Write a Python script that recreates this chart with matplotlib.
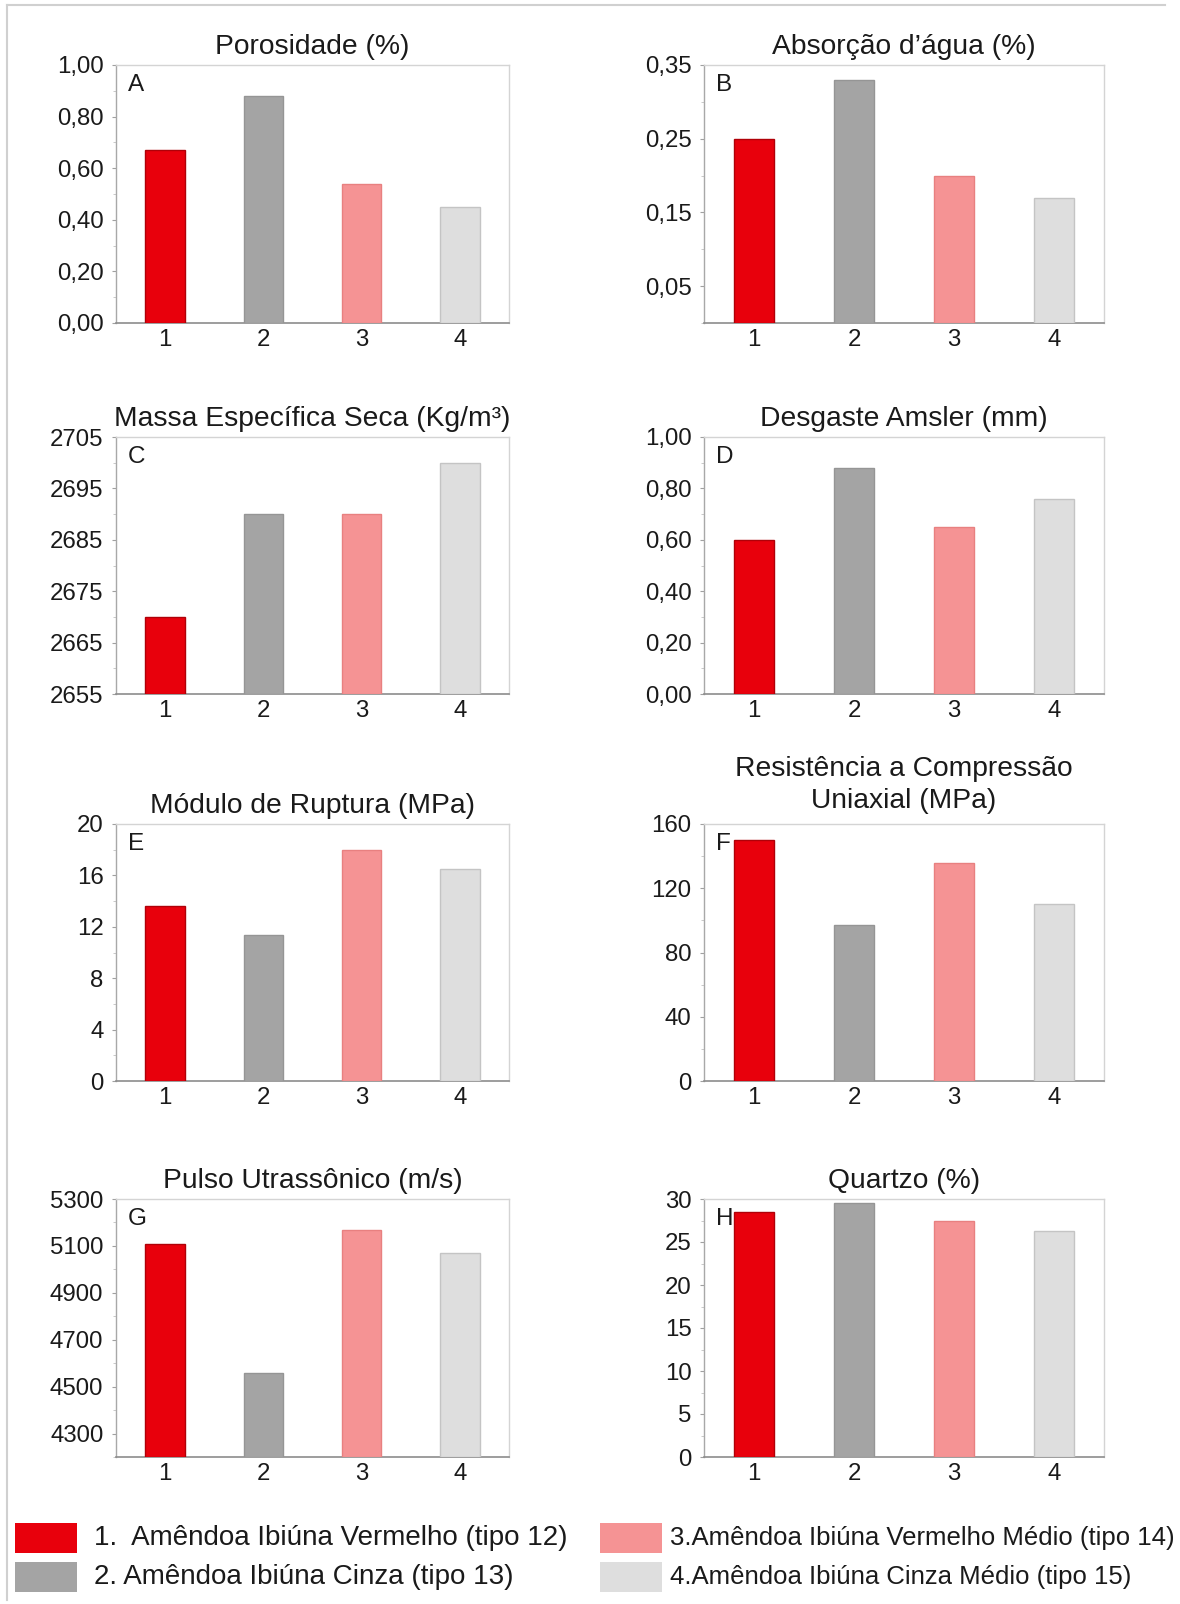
import matplotlib
matplotlib.use("Agg")
import matplotlib.pyplot as plt
from matplotlib.patches import Rectangle
from matplotlib.lines import Line2D
from matplotlib.ticker import FixedLocator, AutoMinorLocator

plt.rcParams['font.family'] = ['Liberation Sans', 'DejaVu Sans']

# ---------------- data ----------------
categories = ["1", "2", "3", "4"]

titles = ["Porosidade (%)", "Absorção d’água (%)",
          "Massa Específica Seca (Kg/m³)", "Desgaste Amsler (mm)",
          "Módulo de Ruptura (MPa)", "Resistência a Compressão\nUniaxial (MPa)",
          "Pulso Utrassônico (m/s)", "Quartzo (%)"]
panel_letters = ["A", "B", "C", "D", "E", "F", "G", "H"]

porosidade = [0.67, 0.88, 0.54, 0.45]
absorcao = [0.25, 0.33, 0.20, 0.17]
massa = [2670, 2690, 2690, 2700]
desgaste = [0.60, 0.88, 0.65, 0.76]
ruptura = [13.6, 11.4, 18.0, 16.5]
compressao = [150, 97, 136, 110]
pulso = [5107, 4560, 5167, 5071]
quartzo = [28.5, 29.5, 27.5, 26.3]

ticks_A = [0.0, 0.2, 0.4, 0.6, 0.8, 1.0]
labels_A = ["0,00", "0,20", "0,40", "0,60", "0,80", "1,00"]
ticks_B = [0.05, 0.15, 0.25, 0.35]
labels_B = ["0,05", "0,15", "0,25", "0,35"]
ticks_C = [2655, 2665, 2675, 2685, 2695, 2705]
labels_C = ["2655", "2665", "2675", "2685", "2695", "2705"]
ticks_D = [0.0, 0.2, 0.4, 0.6, 0.8, 1.0]
labels_D = ["0,00", "0,20", "0,40", "0,60", "0,80", "1,00"]
ticks_E = [0, 4, 8, 12, 16, 20]
labels_E = ["0", "4", "8", "12", "16", "20"]
ticks_F = [0, 40, 80, 120, 160]
labels_F = ["0", "40", "80", "120", "160"]
ticks_G = [4300, 4500, 4700, 4900, 5100, 5300]
labels_G = ["4300", "4500", "4700", "4900", "5100", "5300"]
ticks_H = [0, 5, 10, 15, 20, 25, 30]
labels_H = ["0", "5", "10", "15", "20", "25", "30"]

ylims = [(0, 1.0), (0, 0.35), (2655, 2705), (0, 1.0),
         (0, 20), (0, 160), (4200, 5300), (0, 30)]

legend_labels = ["1.  Amêndoa Ibiúna Vermelho (tipo 12)",
                 "2. Amêndoa Ibiúna Cinza (tipo 13)",
                 "3.Amêndoa Ibiúna Vermelho Médio (tipo 14)",
                 "4.Amêndoa Ibiúna Cinza Médio (tipo 15)"]

# ---------------- style ----------------
bar_colors = ["#e8000c", "#a4a4a4", "#f59394", "#dedede"]
edge_colors = ["#b00008", "#959595", "#e88080", "#c4c4c4"]

values_all = [porosidade, absorcao, massa, desgaste, ruptura, compressao, pulso, quartzo]
ticks_all = [ticks_A, ticks_B, ticks_C, ticks_D, ticks_E, ticks_F, ticks_G, ticks_H]
labels_all = [labels_A, labels_B, labels_C, labels_D, labels_E, labels_F, labels_G, labels_H]

W, H = 1180, 1604
fig = plt.figure(figsize=(W / 100, H / 100), dpi=100)
fig.patch.set_facecolor("white")

cols = [(116, 509), (704, 1104)]
rows = [(65, 323), (437, 694), (824, 1081), (1199, 1457)]

x = list(range(1, len(categories) + 1))
for i in range(8):
    r, c = divmod(i, 2)
    x0, x1 = cols[c]
    y0, y1 = rows[r]
    ax = fig.add_axes([x0 / W, 1 - y1 / H, (x1 - x0) / W, (y1 - y0) / H])
    lo = ylims[i][0]
    vals = values_all[i]
    ax.bar(x, [v - lo for v in vals], bottom=lo, width=0.4,
           color=bar_colors, edgecolor=edge_colors, linewidth=1.0, zorder=3)
    ax.set_xlim(0.5, 4.5)
    ax.set_ylim(*ylims[i])
    ax.set_xticks(x)
    ax.set_xticklabels(categories)
    ax.yaxis.set_major_locator(FixedLocator(ticks_all[i]))
    ax.set_yticklabels(labels_all[i])
    ax.yaxis.set_minor_locator(AutoMinorLocator(2))
    ax.tick_params(axis="y", which="major", labelsize=17.3, length=3, width=0.8,
                   color="#a0a0a0", pad=6, labelcolor="#1a1a1a")
    ax.tick_params(axis="y", which="minor", length=2, width=0.6, color="#c0c0c0")
    ax.tick_params(axis="x", labelsize=17.3, length=0, pad=4, labelcolor="#1a1a1a")
    for s in ["top", "right"]:
        ax.spines[s].set_color("#d4d4d4")
        ax.spines[s].set_linewidth(1.0)
    ax.spines["left"].set_color("#a8a8a8")
    ax.spines["left"].set_linewidth(1.0)
    ax.spines["bottom"].set_color("#8c8c8c")
    ax.spines["bottom"].set_linewidth(1.2)
    multiline = "\n" in titles[i]
    ax.set_title(titles[i], fontsize=20.3, pad=11.5 if multiline else 8,
                 color="#1a1a1a", linespacing=1.3)
    ax.text(0.03, 0.965, panel_letters[i], transform=ax.transAxes,
            fontsize=17.5, va="top", ha="left", color="#1a1a1a", zorder=5)

# ---------------- legend ----------------
leg_items = [
    (15, 1523, 94, 0, 20.0),
    (15, 1562, 94, 1, 20.0),
    (600, 1523, 670, 2, 18.5),
    (600, 1562, 670, 3, 18.5),
]
for px, py, tx, k, fs in leg_items:
    fig.add_artist(Rectangle((px / W, 1 - (py + 30) / H), 62 / W, 30 / H,
                             transform=fig.transFigure, facecolor=bar_colors[k],
                             edgecolor="none"))
    fig.text(tx / W, 1 - (py + 15) / H, legend_labels[k], fontsize=fs,
             va="center", ha="left", color="#1a1a1a")

# ---------------- border ----------------
fig.add_artist(Line2D([7 / W, 1165 / W], [1 - 5 / H, 1 - 5 / H],
                      transform=fig.transFigure, color="#d0d0d0", lw=1.5))
fig.add_artist(Line2D([7 / W, 7 / W], [1 - 5 / H, 1 - 1600 / H],
                      transform=fig.transFigure, color="#d0d0d0", lw=1.5))

fig.savefig("out.png", dpi=100, facecolor="white")
